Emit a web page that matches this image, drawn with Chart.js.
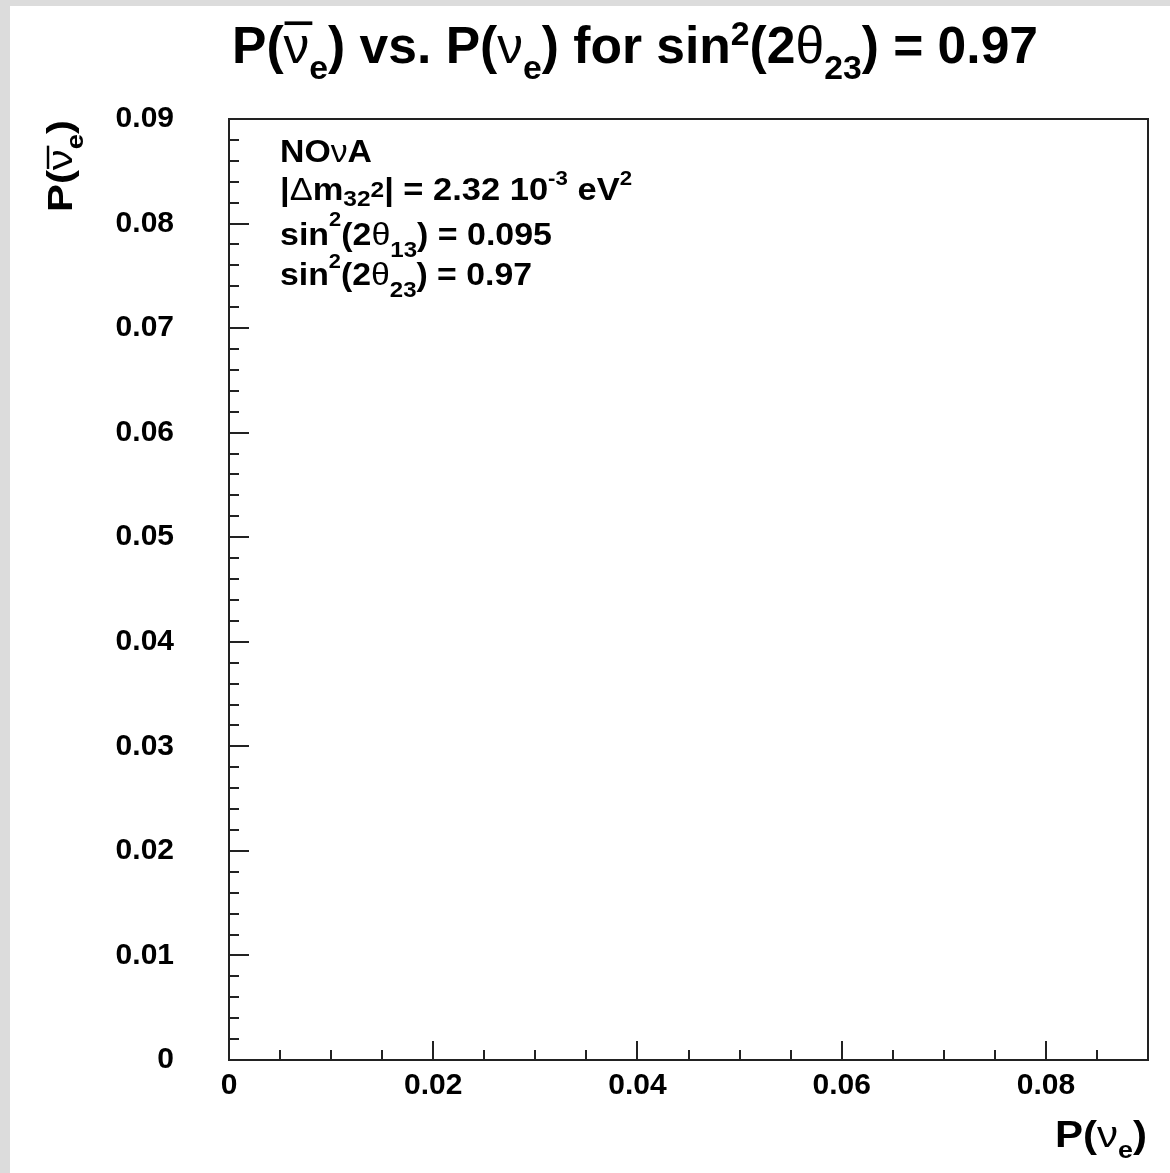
<!DOCTYPE html>
<html>
<head>
<meta charset="utf-8">
<title>P(anti-nu_e) vs P(nu_e)</title>
<script src="https://cdn.jsdelivr.net/npm/chart.js@4.4.1/dist/chart.umd.min.js"></script>
<style>
  html, body { margin: 0; padding: 0; }
  body { width: 1170px; height: 1173px; background: #dcdcdc; position: relative; overflow: hidden; }
  .pad { position: absolute; left: 10px; top: 6px; width: 1160px; height: 1167px; background: #fff; }
</style>
</head>
<body>
<div class="pad"><canvas id="chart" width="1160" height="1167"></canvas></div>
<script>
// axis ticks
const xTickValues = [0, 0.02, 0.04, 0.06, 0.08];
const xTickLabels = ["0", "0.02", "0.04", "0.06", "0.08"];
const yTickValues = [0, 0.01, 0.02, 0.03, 0.04, 0.05, 0.06, 0.07, 0.08, 0.09];
const yTickLabels = ["0", "0.01", "0.02", "0.03", "0.04", "0.05", "0.06", "0.07", "0.08", "0.09"];

// the frame is empty in the picture: no points drawn yet
const nueProb = [];
const nuebarProb = [];

const FONT = '"Liberation Sans", Arial, Helvetica, sans-serif';

function labelFor(values, labels, v) {
  const i = values.findIndex(t => Math.abs(t - v) < 1e-9);
  return i >= 0 ? labels[i] : "";
}

// draws a run of text pieces (sub/superscripts, greek, overbar)
function fontFor(s, size) {
  return (s.greek ? "" : "bold ") + Math.round(size * (s.k || 1)) + "px " + FONT;
}
function drawRich(ctx, segs, x, y, size, fit, barY) {
  let w = 0;
  segs.forEach(s => {
    ctx.font = fontFor(s, size);
    s.w = ctx.measureText(s.t).width;
    w += s.w;
  });
  const k = fit ? fit / w : 1;
  ctx.save();
  ctx.translate(x, y);
  ctx.scale(k, 1);
  ctx.fillStyle = "#000";
  ctx.textAlign = "left";
  ctx.textBaseline = "alphabetic";
  let cx = 0;
  segs.forEach(s => {
    ctx.font = fontFor(s, size);
    ctx.fillText(s.t, cx, (s.dy || 0) * size);
    if (s.bar) ctx.fillRect(cx + 1, (barY || -0.8) * size, s.w + 2, size * 0.07);
    cx += s.w;
  });
  ctx.restore();
}

const titleSegs = [
  { t: "P(" }, { t: "ν", greek: true, bar: true }, { t: "e", k: 0.65, dy: 0.3 },
  { t: ") vs. P(" }, { t: "ν", greek: true }, { t: "e", k: 0.65, dy: 0.3 },
  { t: ") for sin" }, { t: "2", k: 0.65, dy: -0.35 }, { t: "(2" },
  { t: "θ", greek: true }, { t: "23", k: 0.65, dy: 0.3 }, { t: ") = 0.97" }
];
const yTitleSegs = [
  { t: "P(" }, { t: "ν", greek: true, bar: true }, { t: "e", k: 0.65, dy: 0.3 }, { t: ")" }
];
const xTitleSegs = [
  { t: "P(" }, { t: "ν", greek: true }, { t: "e", k: 0.65, dy: 0.3 }, { t: ")" }
];
const boxLines = [
  { base: 156, fit: 92, segs: [{ t: "NO" }, { t: "ν", greek: true }, { t: "A" }] },
  { base: 194, fit: 352, segs: [
    { t: "|" }, { t: "Δ", greek: true }, { t: "m" }, { t: "32", k: 0.7, dy: 0.2 },
    { t: "2", k: 0.7, dy: -0.1 }, { t: "| = 2.32 10" }, { t: "-3", k: 0.65, dy: -0.5 },
    { t: " eV" }, { t: "2", k: 0.65, dy: -0.5 }] },
  { base: 239, fit: 272, segs: [
    { t: "sin" }, { t: "2", k: 0.65, dy: -0.6 }, { t: "(2" }, { t: "θ", greek: true },
    { t: "13", k: 0.7, dy: 0.4 }, { t: ") = 0.095" }] },
  { base: 279, fit: 252, segs: [
    { t: "sin" }, { t: "2", k: 0.65, dy: -0.55 }, { t: "(2" }, { t: "θ", greek: true },
    { t: "23", k: 0.7, dy: 0.4 }, { t: ") = 0.97" }] }
];

// ROOT-like frame: box, inward ticks, titles and the info text
const rootFrame = {
  id: "rootFrame",
  afterDraw(chart) {
    const { ctx, chartArea: a, scales } = chart;
    ctx.save();
    ctx.strokeStyle = "#222";
    ctx.lineWidth = 2;
    ctx.strokeRect(a.left, a.top, a.right - a.left, a.bottom - a.top);

    ctx.beginPath();
    for (let i = 0; i <= 18; i++) {
      const px = Math.round(scales.x.getPixelForValue(i * 0.005));
      const len = i % 4 === 0 ? 19 : 10;
      ctx.moveTo(px, a.bottom);
      ctx.lineTo(px, a.bottom - len);
    }
    for (let i = 0; i <= 45; i++) {
      const py = Math.round(scales.y.getPixelForValue(i * 0.002));
      const len = i % 5 === 0 ? 20 : 10;
      ctx.moveTo(a.left, py);
      ctx.lineTo(a.left + len, py);
    }
    ctx.stroke();
    ctx.restore();

    drawRich(ctx, titleSegs, 222, 57, 52, 806);
    drawRich(ctx, xTitleSegs, 1045, 1141, 36, 92);

    ctx.save();
    ctx.translate(62, 114);
    ctx.rotate(-Math.PI / 2);
    drawRich(ctx, yTitleSegs, -92, 0, 35, 92, -0.72);
    ctx.restore();

    boxLines.forEach(l => drawRich(ctx, l.segs, 270, l.base, 31, l.fit));
  }
};

const tickFont = { family: FONT, size: 30, weight: "bold" };

new Chart(document.getElementById("chart"), {
  type: "scatter",
  data: {
    datasets: [{
      label: "P(anti-nu_e) vs P(nu_e)",
      data: nueProb.map((x, i) => ({ x, y: nuebarProb[i] })),
      pointRadius: 3,
      backgroundColor: "#000"
    }]
  },
  options: {
    responsive: false,
    animation: false,
    layout: { padding: { left: 0, top: 113, right: 22, bottom: 0 } },
    plugins: { legend: { display: false }, tooltip: { enabled: false }, title: { display: false } },
    scales: {
      x: {
        type: "linear", position: "bottom", min: 0, max: 0.09,
        grid: { display: false, drawTicks: false },
        border: { display: false },
        afterBuildTicks: s => { s.ticks = xTickValues.map(v => ({ value: v })); },
        afterFit: s => { s.height = 113; },
        ticks: {
          color: "#000", font: tickFont, padding: 8, maxRotation: 0, autoSkip: false,
          callback: v => labelFor(xTickValues, xTickLabels, v)
        }
      },
      y: {
        type: "linear", position: "left", min: 0, max: 0.09,
        grid: { display: false, drawTicks: false },
        border: { display: false },
        afterBuildTicks: s => { s.ticks = yTickValues.map(v => ({ value: v })); },
        afterFit: s => { s.width = 219; },
        ticks: {
          color: "#000", font: tickFont, padding: 55, autoSkip: false,
          callback: v => labelFor(yTickValues, yTickLabels, v)
        }
      }
    }
  },
  plugins: [rootFrame]
});
</script>
</body>
</html>
